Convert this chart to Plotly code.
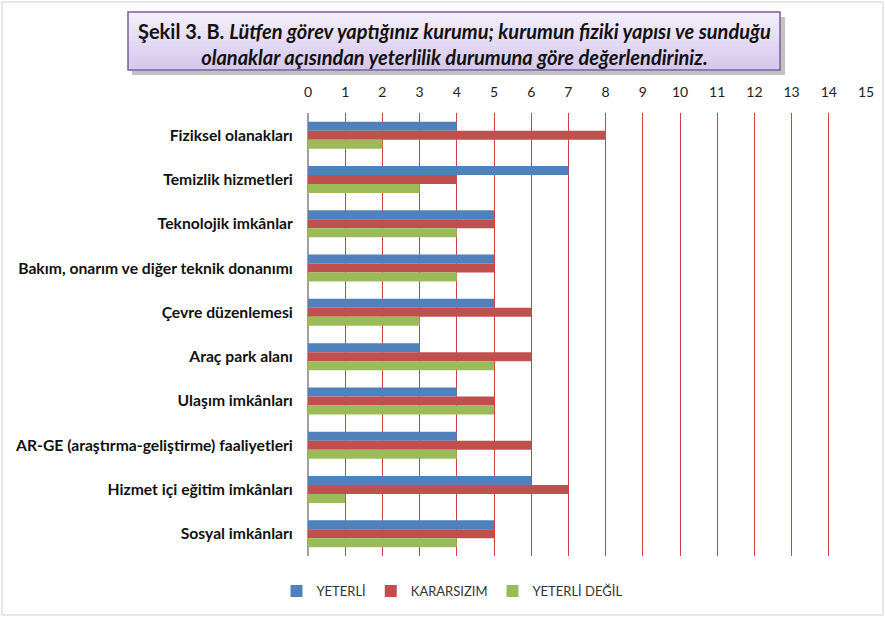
import plotly.graph_objects as go

categories = ["Fiziksel olanakları", "Temizlik hizmetleri", "Teknolojik imkânlar",
              "Bakım, onarım ve diğer teknik donanımı", "Çevre düzenlemesi", "Araç park alanı",
              "Ulaşım imkânları", "AR-GE (araştırma-geliştirme) faaliyetleri",
              "Hizmet içi eğitim imkânları", "Sosyal imkânları"]
yeterli = [4, 7, 5, 5, 5, 3, 4, 4, 6, 5]
kararsizim = [8, 4, 5, 5, 6, 6, 5, 6, 7, 5]
yeterli_degil = [2, 3, 4, 4, 3, 5, 5, 4, 1, 4]
series_names = ["YETERLİ", "KARARSIZIM", "YETERLİ DEĞİL"]
tick_vals = list(range(0, 16))

W, H = 885, 617
ML, MR, MT, MB = 308, 19, 113, 61
PW, PH = W - ML - MR, H - MT - MB

def px(x):
    return (x - ML) / PW

def py(y):
    return 1 - (y - MT) / PH

colors = ["#4F81BD", "#C0504D", "#9BBB59"]
fig = go.Figure()
for name, vals, c in zip(series_names, [yeterli, kararsizim, yeterli_degil], colors):
    fig.add_trace(go.Bar(y=categories, x=vals, name=name, orientation="h",
                         marker=dict(color=c, line=dict(width=0))))

shapes = [
    # outer border
    dict(type="rect", xref="paper", yref="paper", x0=px(2), x1=px(883), y0=py(615), y1=py(2),
         line=dict(color="#D0D0D0", width=1), fillcolor="rgba(0,0,0,0)", layer="below"),
    # title box shadow
    dict(type="rect", xref="paper", yref="paper", x0=px(132), x1=px(785), y0=py(75), y1=py(17),
         line=dict(width=0), fillcolor="rgba(120,120,120,0.45)", layer="below"),
]
# gradient fill of title box
top_c, bot_c = (243, 238, 250), (214, 200, 236)
n = 12
y0b, y1b = 12, 70
for i in range(n):
    t = i / (n - 1)
    c = tuple(round(top_c[k] + (bot_c[k] - top_c[k]) * t) for k in range(3))
    ya = y0b + (y1b - y0b) * i / n
    yb = y0b + (y1b - y0b) * (i + 1) / n
    shapes.append(dict(type="rect", xref="paper", yref="paper", x0=px(128), x1=px(780),
                       y0=py(yb + 0.5), y1=py(ya), line=dict(width=0),
                       fillcolor="rgb(%d,%d,%d)" % c, layer="below"))
shapes.append(dict(type="rect", xref="paper", yref="paper", x0=px(128), x1=px(780), y0=py(70), y1=py(12),
                   line=dict(color="#7A5E9E", width=1.5), fillcolor="rgba(0,0,0,0)", layer="below"))

fig.update_layout(
    width=W, height=H,
    margin=dict(l=ML, r=MR, t=MT, b=MB, autoexpand=False),
    paper_bgcolor="white", plot_bgcolor="white",
    barmode="group", bargap=0.39, bargroupgap=0,
    font=dict(family="Lato, Open Sans, sans-serif", color="#222222"),
    shapes=shapes,
    showlegend=True,
    legend=dict(orientation="h", x=px(452), xanchor="center", y=py(591), yanchor="middle",
                font=dict(size=13, color="#333333"), itemwidth=30, traceorder="normal",
                bgcolor="rgba(0,0,0,0)"),
    annotations=[dict(
        xref="paper", yref="paper", x=px(454), y=py(44), xanchor="center", yanchor="middle",
        showarrow=False, align="center",
        text="<b>Şekil 3. B. <i>Lütfen görev yaptığınız kurumu; kurumun fiziki yapısı ve sunduğu</i></b><br>"
             "<b><i>olanaklar açısından yeterlilik durumuna göre değerlendiriniz.</i></b>",
        font=dict(size=20, color="#111111", family="Lato, Open Sans, sans-serif"))],
)
fig.update_xaxes(range=[0, 15], side="top", tickvals=tick_vals, showgrid=True,
                 gridcolor="#D43F3F", gridwidth=1.3, zeroline=True, zerolinecolor="#A0A0A0",
                 showline=False, tickfont=dict(size=14, color="#222222"), ticks="",
                 ticklabelstandoff=12)
fig.update_yaxes(autorange="reversed", showline=True, linecolor="#A0A0A0", linewidth=1,
                 ticks="", tickfont=dict(size=15.7, color="#111111", family="Lato, sans-serif"),
                 ticklabelstandoff=11, tickprefix="<b>", ticksuffix="</b>")

fig.write_html("out.html", config={"displayModeBar": False},
               post_script="document.body.style.margin='0px';document.body.style.padding='0px';")
